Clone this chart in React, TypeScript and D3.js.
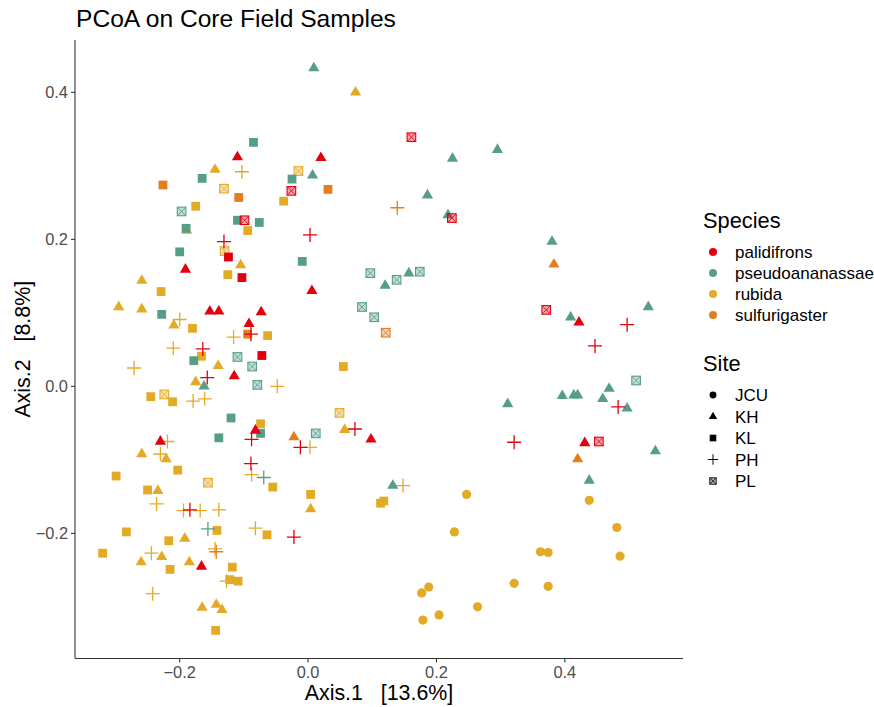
import React from "react";
import * as d3 from "d3";

// ---------- Data (Axis.1, Axis.2) ----------
const speciesNames = ["palidifrons", "pseudoananassae", "rubida", "sulfurigaster"];
const speciesColors = ["#E2000F", "#579E8A", "#E3AA26", "#E47E1D"];
const siteNames = ["JCU", "KH", "KL", "PH", "PL"];
const xTicks = [-0.2, 0.0, 0.2, 0.4];
const yTicks = [-0.2, 0.0, 0.2, 0.4];

const rubidaJCU = [[0.247,-0.147],[0.228,-0.198],[0.188,-0.273],[0.177,-0.281],[0.264,-0.300],[0.204,-0.311],[0.179,-0.318],[0.438,-0.155],[0.481,-0.192],[0.362,-0.225],[0.374,-0.226],[0.486,-0.231],[0.321,-0.268],[0.374,-0.272]];
const rubidaKH = [[-0.145,0.295],[0.074,0.400],[-0.189,0.212],[-0.105,0.165],[-0.259,0.144],[-0.295,0.108],[-0.259,0.105],[-0.209,0.083],[-0.140,0.028],[-0.175,0.006],[0.057,-0.059],[0.004,-0.167],[-0.259,-0.092],[-0.221,-0.099],[-0.234,-0.142],[-0.192,-0.207],[-0.228,-0.232],[-0.260,-0.239],[-0.185,-0.239],[-0.165,-0.301],[-0.143,-0.297],[-0.134,-0.304]];
const rubidaKL = [[-0.038,0.252],[-0.175,0.245],[-0.094,0.212],[-0.125,0.152],[-0.229,0.129],[-0.180,0.079],[-0.063,0.069],[-0.166,0.041],[-0.245,-0.014],[-0.211,-0.021],[-0.074,-0.051],[0.055,0.027],[-0.055,-0.137],[0.004,-0.147],[0.113,-0.159],[0.118,-0.156],[-0.203,-0.114],[-0.299,-0.122],[-0.250,-0.141],[-0.142,-0.196],[-0.064,-0.202],[-0.283,-0.198],[-0.217,-0.210],[-0.320,-0.227],[-0.215,-0.249],[-0.118,-0.246],[-0.122,-0.263],[-0.109,-0.265],[-0.144,-0.332]];
const rubidaPH = [[-0.103,0.292],[-0.200,0.091],[-0.116,0.067],[-0.210,0.052],[-0.271,0.025],[-0.048,0.000],[-0.179,-0.020],[-0.161,-0.017],[-0.219,-0.075],[0.003,-0.083],[0.148,-0.135],[-0.230,-0.092],[-0.088,-0.120],[-0.236,-0.160],[-0.194,-0.169],[-0.168,-0.169],[-0.139,-0.168],[-0.082,-0.193],[-0.244,-0.227],[-0.145,-0.221],[-0.127,-0.265],[-0.242,-0.282]];
const rubidaPL = [[-0.131,0.269],[-0.015,0.293],[-0.130,0.184],[-0.224,-0.011],[0.049,-0.036],[-0.156,-0.131]];

const sulfurigasterKH = [[0.383,0.166],[-0.022,-0.069],[0.420,-0.099]];
const sulfurigasterKL = [[-0.226,0.274],[-0.108,0.257],[0.031,0.268],[-0.094,0.071]];
const sulfurigasterPH = [[0.139,0.243],[-0.143,-0.225]];
const sulfurigasterPL = [[0.121,0.073]];

const pseudoKH = [[0.009,0.433],[0.225,0.310],[0.007,0.287],[0.186,0.260],[0.218,0.233],[0.295,0.322],[0.380,0.197],[0.120,0.137],[0.157,0.154],[-0.162,0.000],[0.132,-0.135],[0.409,0.094],[0.530,0.108],[0.469,-0.003],[0.396,-0.013],[0.414,-0.012],[0.420,-0.012],[0.459,-0.017],[0.497,-0.030],[0.311,-0.024],[0.541,-0.088],[0.438,-0.128]];
const pseudoKL = [[-0.085,0.332],[-0.165,0.283],[-0.110,0.226],[-0.076,0.223],[-0.190,0.215],[-0.025,0.282],[-0.200,0.183],[-0.228,0.098],[-0.178,0.035],[-0.009,0.170],[-0.120,-0.043],[-0.074,-0.064],[-0.139,-0.070]];
const pseudoPH = [[-0.069,-0.124],[-0.156,-0.194]];
const pseudoPL = [[-0.197,0.238],[-0.110,0.040],[-0.087,0.027],[-0.079,0.002],[0.097,0.154],[0.138,0.145],[0.174,0.156],[0.084,0.108],[0.103,0.094],[0.012,-0.064],[0.511,0.008]];

const palidifronsKH = [[-0.110,0.312],[0.020,0.311],[-0.191,0.159],[-0.153,0.102],[-0.139,0.102],[-0.073,0.101],[-0.092,0.085],[-0.115,0.014],[-0.082,-0.060],[-0.230,-0.075],[0.006,0.130],[0.098,-0.072],[0.422,0.087],[0.431,-0.077],[-0.166,-0.245]];
const palidifronsKL = [[-0.124,0.176],[-0.103,0.148],[-0.072,0.042]];
const palidifronsPH = [[-0.131,0.197],[0.003,0.206],[-0.089,0.071],[-0.164,0.051],[-0.157,0.012],[-0.088,-0.072],[-0.089,-0.105],[-0.184,-0.168],[0.073,-0.058],[-0.012,-0.083],[-0.022,-0.205],[0.497,0.084],[0.447,0.055],[0.483,-0.028],[0.321,-0.076]];
const palidifronsPL = [[-0.099,0.226],[-0.026,0.266],[0.161,0.339],[0.224,0.229],[0.371,0.104],[0.453,-0.075]];

// drawing order: [species index, site, values]
const groups: [number, string, number[][]][] = [
  [2, "JCU", rubidaJCU], [2, "KH", rubidaKH], [2, "KL", rubidaKL], [2, "PH", rubidaPH], [2, "PL", rubidaPL],
  [3, "KH", sulfurigasterKH], [3, "KL", sulfurigasterKL], [3, "PH", sulfurigasterPH], [3, "PL", sulfurigasterPL],
  [1, "KH", pseudoKH], [1, "KL", pseudoKL], [1, "PH", pseudoPH], [1, "PL", pseudoPL],
  [0, "KH", palidifronsKH], [0, "KL", palidifronsKL], [0, "PH", palidifronsPH], [0, "PL", palidifronsPL],
];

const FONT = "'Liberation Sans', Arial, Helvetica, sans-serif";

function Marker({ site, color, cx, cy, s = 1 }: { site: string; color: string; cx: number; cy: number; s?: number }) {
  const t = `translate(${cx},${cy}) scale(${s})`;
  if (site === "JCU") return <circle transform={t} r={4.6} fill={color} />;
  if (site === "KH") return <path transform={t} d="M0,-6.4L5.6,3.2L-5.6,3.2Z" fill={color} />;
  if (site === "KL") return <rect transform={t} x={-4.4} y={-4.4} width={8.8} height={8.8} fill={color} />;
  if (site === "PH")
    return <path transform={t} d="M-7,0H7M0,-7V7" stroke={color} strokeWidth={1.3} fill="none" />;
  return (
    <g transform={t}>
      <rect x={-4.3} y={-4.3} width={8.6} height={8.6} fill={color} fillOpacity={0.35} stroke={color} strokeWidth={1.1} />
      <path d="M-4.3,-4.3L4.3,4.3M4.3,-4.3L-4.3,4.3" stroke={color} strokeWidth={0.9} />
    </g>
  );
}

export default function App() {
  const all = groups.flatMap(([sp, site, vals]) => vals.map(([a, b]) => ({ x: a, y: b, sp, site })));
  const [x0, x1] = d3.extent(all, (d) => d.x) as [number, number];
  const [y0, y1] = d3.extent(all, (d) => d.y) as [number, number];
  const ex = (x1 - x0) * 0.05, ey = (y1 - y0) * 0.05;
  const left = 75, right = 683, top = 40, bottom = 658.5;
  const x = d3.scaleLinear().domain([x0 - ex, x1 + ex]).range([left, right]);
  const y = d3.scaleLinear().domain([y0 - ey, y1 + ey]).range([bottom, top]);
  const fmt = (v: number) => d3.format(".1f")(v).replace("-", "\u2212");

  return (
    <svg width={874} height={707} style={{ position: "absolute", left: 0, top: 0, fontFamily: FONT }}>
      <rect width={874} height={707} fill="#fff" />
      <text x={left + 1} y={27} fontSize={24.6} fill="#000">PCoA on Core Field Samples</text>

      {all.map((d, i) => (
        <Marker key={i} site={d.site} color={speciesColors[d.sp]} cx={x(d.x)} cy={y(d.y)} />
      ))}

      {/* axes */}
      <line x1={left} x2={left} y1={top} y2={bottom} stroke="#333" strokeWidth={1.1} />
      <line x1={left} x2={right} y1={bottom} y2={bottom} stroke="#333" strokeWidth={1.1} />
      {xTicks.map((t) => (
        <g key={"x" + t}>
          <line x1={x(t)} x2={x(t)} y1={bottom} y2={bottom + 4} stroke="#333" strokeWidth={1.1} />
          <text x={x(t)} y={bottom + 19.5} fontSize={16.4} fill="#4D4D4D" textAnchor="middle">{fmt(t)}</text>
        </g>
      ))}
      {yTicks.map((t) => (
        <g key={"y" + t}>
          <line x1={left - 4} x2={left} y1={y(t)} y2={y(t)} stroke="#333" strokeWidth={1.1} />
          <text x={left - 7} y={y(t) + 5.8} fontSize={16.4} fill="#4D4D4D" textAnchor="end">{fmt(t)}</text>
        </g>
      ))}
      <text x={(left + right) / 2} y={700} fontSize={21.4} textAnchor="middle" fill="#000" style={{ whiteSpace: "pre" }}>
        {"Axis.1   [13.6%]"}
      </text>
      <text transform={`translate(30,${(top + bottom) / 2}) rotate(-90)`} fontSize={21.4} textAnchor="middle" fill="#000" style={{ whiteSpace: "pre" }}>
        {"Axis.2   [8.8%]"}
      </text>

      {/* legends */}
      <text x={703} y={228} fontSize={21.8} fill="#000">Species</text>
      {speciesNames.map((n, i) => (
        <g key={n}>
          <circle cx={713} cy={252 + i * 21} r={4} fill={speciesColors[i]} />
          <text x={735} y={252 + i * 21 + 6} fontSize={17} fill="#000">{n}</text>
        </g>
      ))}
      <text x={703} y={371} fontSize={21.8} fill="#000">Site</text>
      {siteNames.map((n, i) => (
        <g key={n}>
          <Marker site={n} color="#000" cx={713} cy={395 + i * 21.5} s={0.75} />
          <text x={735} y={395 + i * 21.5 + 6} fontSize={17} fill="#000">{n}</text>
        </g>
      ))}
    </svg>
  );
}
